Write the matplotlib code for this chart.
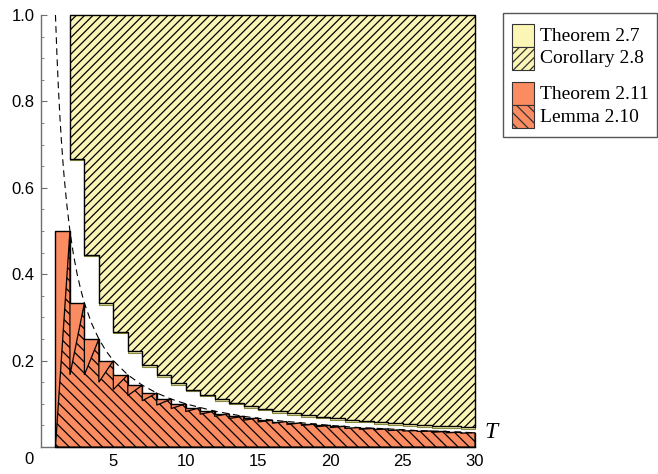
import numpy as np
import matplotlib
matplotlib.use("Agg")
import matplotlib.pyplot as plt
from matplotlib.patches import Rectangle

# step edges (T = n, n = 1..29) and the right end of the plot
T_bars = list(range(1, 31))

# Theorem 2.11: bar height on [n, n+1)
thm211 = [0.5, 0.333, 0.25, 0.2, 0.167, 0.143, 0.125, 0.111, 0.1, 0.091,
          0.083, 0.077, 0.071, 0.067, 0.062, 0.059, 0.056, 0.053, 0.05, 0.048,
          0.045, 0.043, 0.042, 0.04, 0.038, 0.037, 0.036, 0.034, 0.033]

# Lemma 2.10: value of each tooth at its left end (T = n); it rises to thm211 at T = n+1
lemma210_lo = [0.0, 0.167, 0.167, 0.15, 0.133, 0.119, 0.107, 0.097, 0.089, 0.082,
               0.076, 0.071, 0.066, 0.062, 0.058, 0.055, 0.052, 0.05, 0.047, 0.045,
               0.043, 0.041, 0.04, 0.038, 0.037, 0.036, 0.034, 0.033, 0.032]

# yellow regions start at T = 2
T_yel = list(range(2, 31))
cor28 = [0.667, 0.444, 0.333, 0.267, 0.222, 0.19, 0.167, 0.148, 0.133, 0.121,
         0.111, 0.103, 0.095, 0.089, 0.083, 0.078, 0.074, 0.07, 0.067, 0.063,
         0.061, 0.058, 0.056, 0.053, 0.051, 0.049, 0.048, 0.046]
thm27 = [0.664, 0.441, 0.329, 0.263, 0.218, 0.186, 0.163, 0.144, 0.129, 0.117,
         0.107, 0.099, 0.091, 0.085, 0.079, 0.074, 0.07, 0.066, 0.063, 0.059,
         0.057, 0.054, 0.052, 0.049, 0.047, 0.045, 0.044, 0.042]

# dashed curve
dash_T = [1.0, 1.1, 1.2, 1.3, 1.4, 1.5, 1.6, 1.8, 2.0, 2.25, 2.5, 2.75, 3.0, 3.5,
          4.0, 4.5, 5.0, 6, 7, 8, 9, 10, 12, 14, 16, 18, 20, 22, 24, 26, 28, 30]
dash_y = [1.0, 0.909, 0.833, 0.769, 0.714, 0.667, 0.625, 0.556, 0.5, 0.444, 0.4,
          0.364, 0.333, 0.286, 0.25, 0.222, 0.2, 0.167, 0.143, 0.125, 0.111, 0.1,
          0.083, 0.071, 0.062, 0.056, 0.05, 0.045, 0.042, 0.038, 0.036, 0.033]

legend_labels = ["Theorem 2.7", "Corollary 2.8", "Theorem 2.11", "Lemma 2.10"]

yellow = '#FBF6B6'
orange = '#FB8B60'
axis_gray = '#6E6E6E'
hatch_yel = '////'
hatch_ora = '\\\\\\'

plt.rcParams['hatch.linewidth'] = 0.9

W, H = 658, 474
fig = plt.figure(figsize=(W / 100, H / 100), dpi=100)
ax = fig.add_axes([41 / W, 1 - 447 / H, (475 - 41) / W, (447 - 15) / H])
ax.set_xlim(0, 30)
ax.set_ylim(0, 1)

# yellow: Theorem 2.7 (solid) under Corollary 2.8 (hatched)
ax.fill_between(T_yel, thm27 + [thm27[-1]], 1.0, step='post', facecolor=yellow,
                edgecolor='#8A8A40', lw=0.8, zorder=2, clip_on=False)
ax.fill_between(T_yel, cor28 + [cor28[-1]], 1.0, step='post', facecolor=yellow,
                edgecolor='black', hatch=hatch_yel, lw=1.0, zorder=3, clip_on=False)

# orange: Theorem 2.11 bars, Lemma 2.10 teeth on top
ax.fill_between(T_bars, 0, thm211 + [thm211[-1]], step='post', facecolor=orange,
                edgecolor='black', lw=1.0, zorder=4, clip_on=False)
xs, ys = [], []
for i, n in enumerate(T_bars[:-1]):
    xs += [n, n + 1]
    ys += [lemma210_lo[i], thm211[i]]
xs += [T_bars[-1], T_bars[0]]
ys += [0, 0]
ax.fill(xs, ys, facecolor=orange, edgecolor='black', hatch=hatch_ora, lw=0.9,
        zorder=5, clip_on=False)

ax.plot(dash_T, dash_y, color='black', lw=0.8, ls=(0, (6, 4)), zorder=6)

# Mathematica-like axes
for s in ['top', 'right']:
    ax.spines[s].set_visible(False)
for s in ['left', 'bottom']:
    ax.spines[s].set_color(axis_gray)
    ax.spines[s].set_linewidth(1.0)
    ax.spines[s].set_zorder(1)
ax.set_yticks([0.2, 0.4, 0.6, 0.8, 1.0])
ax.set_yticklabels(['0.2', '0.4', '0.6', '0.8', '1.0'])
ax.set_yticks(np.arange(0.05, 1.0, 0.05), minor=True)
ax.set_xticks([5, 10, 15, 20, 25, 30])
ax.tick_params(axis='y', which='major', direction='in', length=4, width=0.8,
               color=axis_gray, pad=4.5, labelsize=12)
ax.tick_params(axis='y', which='minor', direction='in', length=2.5, width=0.6,
               color=axis_gray)
ax.tick_params(axis='x', length=0, pad=5, labelsize=12)
for lab in ax.get_xticklabels() + ax.get_yticklabels():
    lab.set_fontfamily('Liberation Sans')
ax.set_axisbelow(True)

# overlay in pixel coordinates for origin label, axis label and legend
lax = fig.add_axes([0, 0, 1, 1])
lax.set_xlim(0, W)
lax.set_ylim(H, 0)
lax.axis('off')
lax.text(29, 460, '0', ha='center', va='center', fontsize=12,
         family='Liberation Sans')
lax.text(491, 432, 'T', ha='center', va='center', fontsize=17,
         family='Liberation Serif', style='italic')

lax.add_patch(Rectangle((503, 13), 154, 124, facecolor='white',
                        edgecolor='#555555', lw=1.0))
sw = [(24, yellow, None), (46.5, yellow, hatch_yel), (82, orange, None), (105, orange, hatch_ora)]
for (y0, col, h), lab in zip(sw, legend_labels):
    lax.add_patch(Rectangle((512, y0), 22, 23, facecolor=col, edgecolor='#333333',
                            hatch=h, lw=0.8))
    lax.text(540, y0 + 12, lab, ha='left', va='center', fontsize=14,
             family='Liberation Serif')

fig.savefig('out.png', dpi=100)
